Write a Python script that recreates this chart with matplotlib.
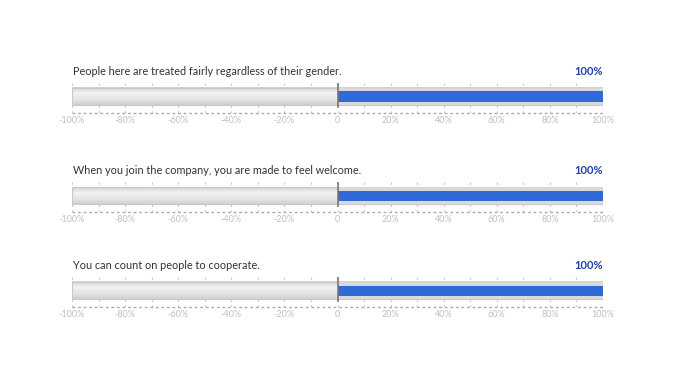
import matplotlib
matplotlib.use("Agg")
import matplotlib.pyplot as plt
import numpy as np
from matplotlib.colors import LinearSegmentedColormap

questions = [
    "People here are treated fairly regardless of their gender.",
    "When you join the company, you are made to feel welcome.",
    "You can count on people to cooperate.",
]
values = [100, 100, 100]
tick_values = [-100, -80, -60, -40, -20, 0, 20, 40, 60, 80, 100]
tick_labels = ["-100%", "-80%", "-60%", "-40%", "-20%", "0", "20%", "40%", "60%", "80%", "100%"]

W, H = 680, 382
fig = plt.figure(figsize=(W / 100, H / 100), dpi=100)
plt.rcParams['font.family'] = ['Lato', 'DejaVu Sans']

x0, x1 = 72, 603
bottoms = [113, 212, 307]   # pixel y of axis baseline
ax_h = 30

grad = np.linspace(0, 1, 64).reshape(-1, 1)
cmap = LinearSegmentedColormap.from_list("g", ["#d2d2d2", "#f2f2f2", "#e6e6e6", "#d0d0d0"])

for q, v, yb in zip(questions, values, bottoms):
    ax = fig.add_axes([x0 / W, (H - yb) / H, (x1 - x0) / W, ax_h / H])
    ax.set_xlim(-100, 100)
    ax.set_ylim(0, 30)
    ax.imshow(grad, extent=(-100, 100, 8, 25), aspect='auto', cmap=cmap, zorder=1,
              origin='upper')
    ax.add_patch(plt.Rectangle((-100, 8), 200, 17, fill=False, ec="#c8c8c8", lw=0.8, zorder=2))
    ax.barh(16.5, 100, left=0, height=17, color="#d9d9d9", zorder=2)
    ax.barh(16.5, v, left=0, height=10, color="#2f6ad9", zorder=3)
    for gx in range(-100, 101, 10):
        ax.plot([gx, gx], [0, 30], color="#c8c8c8", lw=0.8, ls=(0, (2, 3)), zorder=0.5)
    ax.plot([0, 0], [6, 30], color="#777777", lw=1.2, zorder=4)
    ax.plot([-100, 100], [0, 0], color="#aaaaaa", lw=1.0, ls=(0, (2, 2)), zorder=4, clip_on=False)
    for s in ax.spines.values():
        s.set_visible(False)
    ax.set_yticks([])
    ax.set_xticks(tick_values)
    ax.set_xticklabels(tick_labels)
    ax.tick_params(axis='x', length=0, pad=2, labelsize=6.5, labelcolor="#c0c0c0")
    ax.text(-99.5, 36, q, fontsize=7.8, color="#333333", ha='left', va='bottom')
    ax.text(100, 36, f"{v}%", fontsize=8, color="#1f3fa8", fontweight='bold', ha='right', va='bottom')
    ax.set_facecolor("none")

fig.savefig("out.png", dpi=100)
